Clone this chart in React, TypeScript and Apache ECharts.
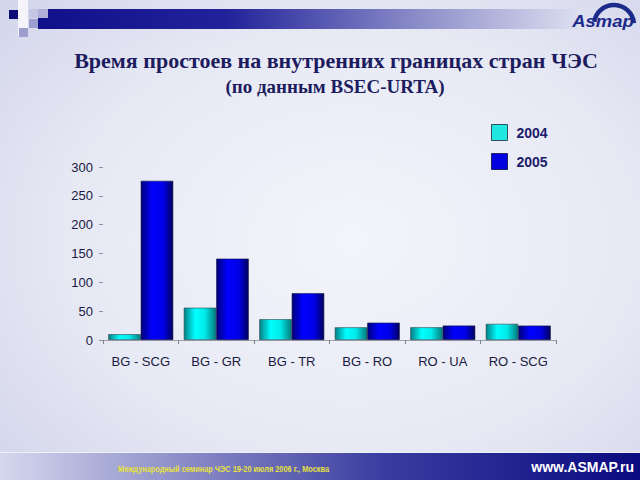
import React, { useEffect, useRef } from "react";
import * as echarts from "echarts";

const categories = ["BG - SCG", "BG - GR", "BG - TR", "BG - RO", "RO - UA", "RO - SCG"];
const values2004 = [10, 56, 36, 22, 22, 28];
const values2005 = [276, 141, 81, 30, 25, 25];
const seriesNames = ["2004", "2005"];
const yTicks = { min: 0, max: 300, interval: 50 };

const titleText = "Время простоев на внутренних границах стран ЧЭС";
const subtitleText = "(по данным BSEC-URTA)";
const footerText = "Международный семинар ЧЭС 19-20 июля 2006 г., Москва";
const siteText = "www.ASMAP.ru";
const logoText = "Asmap";

const hGrad = (stops: [number, string][]) =>
  new echarts.graphic.LinearGradient(
    0, 0, 1, 0,
    stops.map(([offset, color]) => ({ offset, color }))
  );

export default function App() {
  const ref = useRef<HTMLDivElement>(null);

  useEffect(() => {
    document.body.style.margin = "0";
    if (!ref.current) return;
    const chart = echarts.init(ref.current, undefined, { renderer: "svg" });

    const cyanGrad = hGrad([
      [0, "#007f86"],
      [0.35, "#00ffff"],
      [0.65, "#00eaea"],
      [1, "#007c80"],
    ]);
    const blueGrad = hGrad([
      [0, "#00007a"],
      [0.35, "#0000ff"],
      [0.7, "#0000e6"],
      [1, "#00005e"],
    ]);

    chart.setOption({
      animation: false,
      textStyle: { fontFamily: "Liberation Sans" },
      grid: { left: 103, right: 84, top: 167, bottom: 140 },
      legend: {
        left: 491,
        top: 124,
        padding: 0,
        orient: "vertical",
        itemWidth: 16,
        itemHeight: 16,
        itemGap: 12,
        icon: "rect",
        textStyle: { color: "#1c1c6a", fontSize: 14, fontWeight: "bold", fontFamily: "Liberation Sans", padding: [0, 0, 0, 4] },
        data: [
          { name: seriesNames[0], itemStyle: { color: "#20e8e0", borderColor: "#305060", borderWidth: 1 } },
          { name: seriesNames[1], itemStyle: { color: "#0000e0", borderColor: "#202060", borderWidth: 1 } },
        ],
      },
      xAxis: {
        type: "category",
        data: categories,
        axisLine: { show: true, lineStyle: { color: "#a0a0a8", width: 1 } },
        axisTick: { show: true, length: 4, lineStyle: { color: "#808088" } },
        axisLabel: {
          interval: 0,
          color: "#1a1a40",
          fontSize: 13,
          margin: 15,
          fontFamily: "Liberation Sans",
        },
      },
      yAxis: {
        type: "value",
        min: yTicks.min,
        max: yTicks.max,
        interval: yTicks.interval,
        axisLine: { show: false },
        axisTick: { show: true, length: 4, lineStyle: { color: "#9090a0" } },
        splitLine: { show: false },
        axisLabel: { color: "#1a1a40", fontSize: 13, margin: 10, fontFamily: "Liberation Sans" },
      },
      series: [
        {
          name: seriesNames[0],
          type: "bar",
          data: values2004,
          barGap: "0%",
          barCategoryGap: "14%",
          itemStyle: { color: cyanGrad, borderColor: "#304850", borderWidth: 0.6 },
        },
        {
          name: seriesNames[1],
          type: "bar",
          data: values2005,
          barGap: "0%",
          barCategoryGap: "14%",
          itemStyle: { color: blueGrad, borderColor: "#101040", borderWidth: 0.6 },
        },
      ],
      graphic: [
        {
          type: "rect",
          z: -100,
          silent: true,
          shape: { x: 0, y: 0, width: 640, height: 480 },
          style: {
            fill: new echarts.graphic.RadialGradient(0.55, 0.5, 0.75, [
              { offset: 0, color: "#f4f5fb" },
              { offset: 0.6, color: "#e6e8f4" },
              { offset: 1, color: "#d2d5ea" },
            ]),
          },
        },
        // top band
        {
          type: "rect",
          z: -50,
          silent: true,
          shape: { x: 38, y: 9, width: 540, height: 20 },
          style: {
            fill: new echarts.graphic.LinearGradient(0, 0, 1, 0, [
              { offset: 0, color: "#10108a" },
              { offset: 0.35, color: "#22229a" },
              { offset: 0.7, color: "#8a8cc8" },
              { offset: 1, color: "#dcdef0" },
            ]),
          },
        },
        // decorative squares
        { type: "rect", z: -40, silent: true, shape: { x: 18, y: 0, width: 10, height: 36 }, style: { fill: "#f4f4fa" } },
        { type: "rect", z: -40, silent: true, shape: { x: 9, y: 10, width: 9, height: 9 }, style: { fill: "#0c0c78" } },
        { type: "rect", z: -40, silent: true, shape: { x: 29, y: 9, width: 9, height: 9 }, style: { fill: "#c4c6e4" } },
        { type: "rect", z: -40, silent: true, shape: { x: 38, y: 9, width: 10, height: 9 }, style: { fill: "#aeb0d8" } },
        { type: "rect", z: -40, silent: true, shape: { x: 29, y: 19, width: 9, height: 9 }, style: { fill: "#9c9ed0" } },
        { type: "rect", z: -40, silent: true, shape: { x: 19, y: 28, width: 9, height: 9 }, style: { fill: "#9c9ed0" } },
        // logo
        {
          type: "arc",
          z: -30,
          silent: true,
          shape: { cx: 614, cy: 25, r: 20, startAngle: Math.PI * 1.05, endAngle: Math.PI * 1.97 },
          style: { stroke: "#1c2a8a", lineWidth: 4.5, fill: "none" },
        },
        {
          type: "text",
          z: -30,
          silent: true,
          x: 603,
          y: 21,
          scaleX: 1.15,
          style: {
            text: logoText,
            fill: "#1c2a8a",
            font: "italic bold 16px 'Liberation Sans'",
            align: "center",
            verticalAlign: "middle",
          },
        },
        // titles
        {
          type: "text",
          x: 336,
          y: 60,
          style: {
            text: titleText,
            fill: "#1c1c5e",
            font: "bold 22px 'Liberation Serif'",
            align: "center",
            verticalAlign: "middle",
          },
        },
        {
          type: "text",
          x: 335,
          y: 86,
          style: {
            text: subtitleText,
            fill: "#1c1c5e",
            font: "bold 19px 'Liberation Serif'",
            align: "center",
            verticalAlign: "middle",
          },
        },
        // footer band
        {
          type: "rect",
          z: -50,
          silent: true,
          shape: { x: 0, y: 452, width: 640, height: 28 },
          style: {
            fill: new echarts.graphic.LinearGradient(0, 0, 1, 0, [
              { offset: 0, color: "#d6d8ee" },
              { offset: 0.25, color: "#9496cc" },
              { offset: 0.6, color: "#3a3ca0" },
              { offset: 1, color: "#0a0a80" },
            ]),
          },
        },
        {
          type: "line",
          z: -45,
          silent: true,
          shape: { x1: 0, y1: 452.5, x2: 640, y2: 452.5 },
          style: { stroke: "#eef0fa", lineWidth: 1 },
        },
        {
          type: "text",
          x: 118,
          y: 469,
          scaleX: 0.82,
          style: {
            text: footerText,
            fill: "#e6e040",
            font: "bold 9px 'Liberation Sans'",
            align: "left",
            verticalAlign: "middle",
          },
        },
        {
          type: "text",
          x: 634,
          y: 467,
          style: {
            text: siteText,
            fill: "#ffffff",
            font: "bold 14px 'Liberation Sans'",
            align: "right",
            verticalAlign: "middle",
          },
        },
      ],
    });

    return () => chart.dispose();
  }, []);

  return <div ref={ref} style={{ width: 640, height: 480 }} />;
}
